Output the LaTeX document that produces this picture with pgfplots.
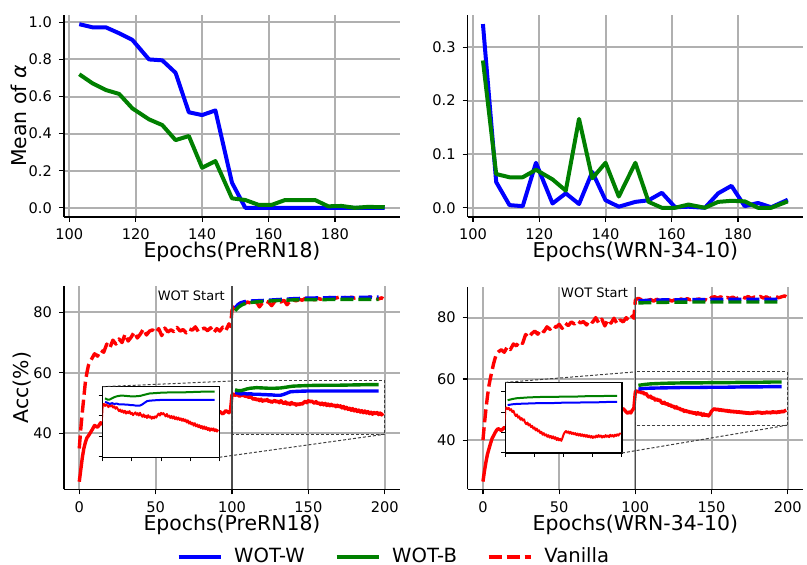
\documentclass[border=0pt]{standalone}
\usepackage{pgfplots}
\pgfplotsset{compat=1.18}
\usepackage{pgfplotstable}
\usepackage{fontspec}
\setmainfont{DejaVu Sans}

\definecolor{gridc}{RGB}{176,176,176}
\definecolor{mgreen}{RGB}{0,128,0}

% ---- alpha curves (top row) ----
\pgfplotstableread{
x w b
103 0.990 0.720
107 0.973 0.671
111 0.973 0.635
115 0.941 0.614
119 0.905 0.536
124 0.800 0.477
128 0.795 0.446
132 0.728 0.365
136 0.515 0.387
140 0.500 0.216
144 0.525 0.252
149 0.135 0.051
153 0.000 0.042
157 0.000 0.016
161 0.000 0.016
165 0.000 0.042
170 0.000 0.042
174 0.000 0.042
178 0.000 0.008
182 0.000 0.010
186 0.000 0.000
190 0.000 0.005
195 0.000 0.003
}\alphaPre

\pgfplotstableread{
x w b
103 0.343 0.275
107 0.048 0.063
111 0.005 0.057
115 0.003 0.057
119 0.084 0.071
124 0.008 0.053
128 0.027 0.032
132 0.007 0.166
136 0.067 0.055
140 0.014 0.084
144 0.002 0.021
149 0.011 0.084
153 0.014 0.011
157 0.028 0.000
161 0.001 0.000
165 0.002 0.006
170 0.000 0.000
174 0.027 0.011
178 0.041 0.013
182 0.003 0.012
186 0.009 0.000
190 0.001 0.000
195 0.015 0.012
}\alphaWrn

% ---- PreRN18 accuracy ----
\pgfplotstableread[row sep=\\]{
x y\\
0 35\\ 1 41.5\\ 2 47\\ 3 52\\ 4 57\\ 5 60\\ 6 62.5\\ 7 63.6\\ 8 64.5\\ 10 66.3\\
12 65.5\\ 14 67.5\\ 16 66.8\\ 18 69.5\\ 20 68.2\\ 22 70.8\\ 24 69.5\\ 26 71.2\\ 28 70\\ 30 72.8\\
32 70.5\\ 34 71.8\\ 36 73.5\\ 38 71.5\\ 40 72.8\\ 42 74.5\\ 44 72.5\\ 46 73.8\\ 48 74.2\\ 50 73.2\\
52 74.6\\ 54 72.3\\ 56 74.8\\ 58 73.5\\ 60 74.2\\ 62 73.6\\ 64 75\\ 66 73.8\\ 68 74.3\\ 70 73.2\\
72 74.5\\ 74 74.1\\ 76 75.2\\ 78 73.6\\ 80 74.4\\ 82 74.8\\ 84 73.9\\ 86 74.9\\ 88 73.2\\ 90 74.6\\
92 73.8\\ 94 75.1\\ 96 74\\ 98 76.2\\ 99 75.3\\ 100 80.7\\ 101 81.5\\ 102 82\\ 104 82.6\\ 106 83.2\\
108 82.8\\ 110 83.4\\ 112 83.1\\ 114 82.5\\ 116 83.5\\ 118 81.8\\ 120 83.2\\ 122 83.7\\ 124 83.3\\ 126 82.2\\
128 83.6\\ 130 83.9\\ 132 83.4\\ 134 84\\ 136 82.5\\ 138 83.7\\ 140 84.1\\ 142 83.8\\ 144 84.3\\ 146 84\\
148 84.6\\ 150 84.2\\ 152 84.5\\ 154 84.1\\ 156 84.7\\ 158 84.3\\ 160 84.8\\ 162 84.4\\ 164 84.9\\ 166 84.5\\
168 84.7\\ 170 85\\ 172 84.6\\ 174 84.9\\ 176 84.4\\ 178 85\\ 180 84.7\\ 182 84.9\\ 184 84.5\\ 186 84.8\\
188 84.4\\ 190 85.1\\ 192 84.6\\ 194 84.9\\ 196 84.4\\ 198 84.8\\ 199 84.5\\
}\preTrain

\pgfplotstableread[row sep=\\]{
x y\\
0 24\\ 1 28\\ 2 32\\ 3 35\\ 4 37\\ 5 38.5\\ 6 39.2\\ 7 40\\ 8 40.8\\ 10 42.6\\
12 42\\ 14 43.5\\ 16 42.8\\ 18 44\\ 20 43.2\\ 22 44.5\\ 24 43.8\\ 26 44.8\\ 28 44\\ 30 45.2\\
32 44.3\\ 34 45.5\\ 36 44.8\\ 38 45.7\\ 40 44.9\\ 44 45.5\\ 48 46\\ 52 45.3\\ 56 46.2\\ 60 45.6\\
64 46.4\\ 68 45.8\\ 72 46.5\\ 76 46\\ 80 46.8\\ 84 46.2\\ 88 46.9\\ 90 46.5\\ 92 47.2\\ 94 46.4\\
96 47.5\\ 98 46.8\\ 99 47.6\\
100 52.8\\ 101 53.0\\ 102 52.5\\ 103 52.9\\ 104 52.6\\ 105 52.2\\ 106 52.8\\ 107 52.4\\ 108 52.7\\ 109 52.1\\
110 52.4\\ 111 51.8\\ 112 52.2\\ 113 51.7\\ 114 51.2\\ 115 51.6\\ 116 51.0\\ 117 51.4\\ 118 50.8\\ 119 51.3\\
120 50.6\\ 121 51.1\\ 122 50.7\\ 123 51.2\\ 124 50.5\\ 125 50.8\\ 126 50.2\\ 127 50.6\\ 128 50.9\\ 129 50.3\\
130 50.7\\ 131 50.1\\ 132 50.8\\ 133 50.2\\ 134 49.8\\ 135 50.4\\ 136 49.7\\ 137 50.1\\ 138 49.5\\ 139 50.2\\
140 49.6\\ 141 49.9\\ 142 49.3\\ 143 49.8\\ 144 49.4\\ 145 49.9\\ 146 49.6\\ 147 50.2\\ 148 50.6\\ 149 50.1\\
150 50.8\\ 151 50.4\\ 152 50.7\\ 153 50.3\\ 154 49.9\\ 155 50.5\\ 156 49.8\\ 157 50.1\\ 158 49.5\\ 159 50.0\\
160 49.4\\ 161 49.9\\ 162 49.2\\ 163 49.7\\ 164 49.1\\ 165 49.6\\ 166 49.0\\ 167 49.4\\ 168 48.8\\ 169 49.3\\
170 48.7\\ 171 49.1\\ 172 48.4\\ 173 48.9\\ 174 48.1\\ 175 48.6\\ 176 47.9\\ 177 48.3\\ 178 47.6\\ 179 48.2\\
180 47.4\\ 181 47.9\\ 182 47.2\\ 183 47.7\\ 184 47.0\\ 185 47.5\\ 186 46.8\\ 187 47.4\\ 188 46.7\\ 189 47.2\\
190 46.5\\ 191 47.0\\ 192 46.3\\ 193 46.9\\ 194 46.4\\ 195 46.9\\ 196 46.2\\ 197 46.7\\ 198 46.1\\ 199 46.6\\
}\preTest

\pgfplotstableread[row sep=\\]{
x y\\
102 81.5\\ 104 82.6\\ 106 83.2\\ 108 83.5\\ 110 83.7\\ 115 83.8\\ 120 83.9\\ 130 84.2\\
140 84.5\\ 150 84.7\\ 160 84.8\\ 170 84.9\\ 180 84.9\\ 190 85.0\\ 196 85.0\\
}\preWtrain

\pgfplotstableread[row sep=\\]{
x y\\
102 80.5\\ 104 81.6\\ 106 82.3\\ 108 82.8\\ 110 83.1\\ 115 83.4\\ 120 83.6\\ 130 83.9\\
140 84.1\\ 150 84.2\\ 160 84.2\\ 170 84.3\\ 180 84.3\\ 190 84.3\\ 196 84.3\\
}\preBtrain

\pgfplotstableread[row sep=\\]{
x y\\
102 53.5\\ 104 53.3\\ 106 53.0\\ 108 53.2\\ 110 53.0\\ 112 53.1\\ 114 52.9\\ 116 52.9\\ 118 52.9\\
120 52.8\\ 122 52.8\\ 124 52.7\\ 126 52.7\\ 128 52.6\\ 130 52.6\\ 132 52.6\\ 134 52.9\\ 136 53.3\\
138 53.7\\ 140 53.8\\ 144 53.9\\ 150 54.0\\ 160 54.0\\ 170 54.0\\ 180 54.0\\ 190 54.0\\ 196 54.0\\
}\preWtest

\pgfplotstableread[row sep=\\]{
x y\\
102 54.4\\ 104 54.1\\ 106 54.1\\ 108 54.4\\ 110 54.7\\ 112 54.9\\ 116 55.1\\ 120 55.0\\ 124 54.9\\
128 54.9\\ 132 55.0\\ 136 55.3\\ 140 55.6\\ 145 55.7\\ 150 55.8\\ 160 55.9\\ 170 55.9\\ 180 56.0\\
190 56.1\\ 196 56.1\\
}\preBtest

% ---- WRN-34-10 accuracy ----
\pgfplotstableread[row sep=\\]{
x y\\
0 40\\ 1 45.5\\ 2 50.3\\ 3 54.5\\ 4 58\\ 5 60.5\\ 6 62.8\\ 7 65\\ 8 66.8\\ 9 68.3\\
10 68.8\\ 12 69.5\\ 14 68.7\\ 16 70.5\\ 18 69.6\\ 20 71.4\\ 22 70.8\\ 24 72.3\\ 26 71.6\\ 28 74.5\\
30 73.5\\ 32 74.8\\ 34 75.6\\ 36 74.6\\ 38 76.2\\ 40 75.4\\ 42 77\\ 44 76.2\\ 46 77.5\\ 48 76.8\\
50 77.8\\ 52 76.5\\ 54 78.2\\ 56 77.4\\ 58 78.6\\ 60 77.9\\ 62 79\\ 64 78.3\\ 66 78.7\\ 68 77.6\\
70 79.2\\ 72 78.5\\ 74 80\\ 76 78.2\\ 78 79.5\\ 80 77.3\\ 82 79.4\\ 84 78.2\\ 86 79.8\\ 88 78\\
90 79.3\\ 92 78.6\\ 94 80\\ 96 79\\ 98 80.5\\ 99 79.8\\ 100 85.7\\ 101 86.1\\ 102 86.3\\ 104 85.8\\
106 86.2\\ 108 85.6\\ 110 85.9\\ 112 85.4\\ 114 86\\ 116 85.5\\ 118 85.9\\ 120 85.3\\ 122 85.8\\ 124 85.4\\
126 85.9\\ 128 85.6\\ 130 86.1\\ 132 85.5\\ 134 86.2\\ 136 85.8\\ 138 86.3\\ 140 85.9\\ 142 86.1\\ 144 85.3\\
146 85.9\\ 148 85.4\\ 150 86.6\\ 152 86.8\\ 154 86.4\\ 156 86.8\\ 158 86.2\\ 160 86.6\\ 162 86.3\\ 164 86.7\\
166 86.1\\ 168 86.6\\ 170 86.8\\ 172 86.4\\ 174 86.9\\ 176 86.3\\ 178 86.7\\ 180 86.5\\ 182 86.9\\ 184 86.4\\
186 86.8\\ 188 86.2\\ 190 86.7\\ 192 86.9\\ 194 86.5\\ 196 86.8\\ 198 87.1\\ 199 86.8\\
}\wrnTrain

\pgfplotstableread[row sep=\\]{
x y\\
0 26.5\\ 1 30\\ 2 33\\ 3 35.5\\ 4 37.3\\ 5 39\\ 6 40.6\\ 7 41.5\\ 8 42.5\\ 9 43.3\\
10 43.8\\ 12 43.2\\ 14 44.2\\ 16 43.6\\ 20 44.8\\ 24 44.3\\ 28 45.5\\ 32 45\\ 36 46.2\\ 40 45.8\\
44 46.8\\ 48 46.4\\ 52 47.3\\ 56 47\\ 60 47.8\\ 64 47.4\\ 68 48.3\\ 72 48\\ 76 48.8\\ 80 48.4\\
84 49.2\\ 88 48.8\\ 90 50\\ 92 50.3\\ 93 49.8\\ 94 49.2\\ 95 48.8\\ 96 49.3\\ 97 48.9\\ 98 49.8\\
99 50.4\\
100 55.8\\ 101 56.1\\ 102 55.7\\ 103 56.0\\ 104 55.4\\ 105 55.7\\ 106 55.0\\ 107 55.3\\ 108 54.5\\ 109 54.0\\
110 54.4\\ 111 53.6\\ 112 53.9\\ 113 53.1\\ 114 53.5\\ 115 52.9\\ 116 53.2\\ 117 52.4\\ 118 52.0\\ 119 52.4\\
120 51.7\\ 121 52.0\\ 122 51.3\\ 123 51.6\\ 124 50.9\\ 125 51.2\\ 126 50.5\\ 127 50.9\\ 128 50.2\\ 129 50.5\\
130 49.8\\ 131 50.1\\ 132 49.4\\ 133 49.8\\ 134 49.2\\ 135 49.5\\ 136 48.9\\ 137 49.3\\ 138 48.7\\ 139 49.1\\
140 48.5\\ 141 49.0\\ 142 48.4\\ 143 48.8\\ 144 48.1\\ 145 48.6\\ 146 48.0\\ 147 48.4\\ 148 47.9\\ 149 48.6\\
150 49.5\\ 151 50.0\\ 152 50.3\\ 153 49.9\\ 154 50.2\\ 155 49.7\\ 156 50.1\\ 157 49.6\\ 158 49.9\\ 159 49.5\\
160 49.8\\ 161 49.3\\ 162 49.7\\ 163 49.2\\ 164 49.6\\ 165 49.1\\ 166 49.5\\ 167 49.0\\ 168 49.4\\ 169 48.9\\
170 49.3\\ 171 48.8\\ 172 49.2\\ 173 48.7\\ 174 49.1\\ 175 48.6\\ 176 49.0\\ 177 48.7\\ 178 49.2\\ 179 48.8\\
180 49.3\\ 181 48.9\\ 182 49.2\\ 183 48.7\\ 184 49.1\\ 185 48.8\\ 186 49.3\\ 187 48.9\\ 188 49.2\\ 189 48.8\\
190 49.4\\ 191 49.0\\ 192 49.3\\ 193 48.9\\ 194 49.4\\ 195 49.1\\ 196 49.5\\ 197 49.2\\ 198 49.6\\ 199 49.8\\
}\wrnTest

\pgfplotstableread[row sep=\\]{
x y\\
102 85.5\\ 110 85.7\\ 120 85.8\\ 140 85.9\\ 160 86.0\\ 180 86.0\\ 196 86.0\\
}\wrnWtrain

\pgfplotstableread[row sep=\\]{
x y\\
102 84.8\\ 110 84.9\\ 120 85.0\\ 140 85.1\\ 160 85.1\\ 180 85.1\\ 196 85.1\\
}\wrnBtrain

\pgfplotstableread[row sep=\\]{
x y\\
102 56.7\\ 106 56.9\\ 110 57.0\\ 120 57.1\\ 130 57.2\\ 140 57.2\\ 150 57.3\\ 160 57.3\\
170 57.4\\ 180 57.4\\ 190 57.5\\ 196 57.5\\
}\wrnWtest

\pgfplotstableread[row sep=\\]{
x y\\
102 57.9\\ 106 58.2\\ 110 58.4\\ 120 58.6\\ 130 58.7\\ 140 58.7\\ 150 58.8\\ 160 58.8\\
170 58.9\\ 180 58.9\\ 190 59.0\\ 196 59.0\\
}\wrnBtest

\pgfplotsset{
  mainax/.style={
    scale only axis, width=168pt, height=101pt,
    axis x line*=bottom, axis y line*=left,
    axis line style={line width=0.6pt},
    tick align=outside, major tick length=2.5pt,
    tick style={line width=0.6pt, black},
    grid=major, major grid style={gridc, line width=1pt},
    tick label style={font=\fontsize{7.3}{8}\selectfont},
    label style={font=\fontsize{10.2}{12}\selectfont},
    /pgf/number format/assume math mode=true,
    xlabel style={at={(axis description cs:0.5,-0.175)}, anchor=center},
    ylabel style={at={(axis description cs:-0.135,0.5)}, anchor=center},
    every axis plot/.append style={line width=1.7pt, line join=round},
  },
  accax/.style={mainax, xmin=-10, xmax=210, xtick={0,50,100,150,200}, ytick={40,60,80}},
  insax/.style={
    scale only axis, width=58.3pt, height=35.3pt,
    axis background/.style={fill=white},
    xmin=100, xmax=200, xtick={100,125,150,175,200},
    xticklabels={}, yticklabels={},
    xtick pos=left, ytick pos=left,
    tick align=outside, major tick length=2pt,
    tick style={line width=0.5pt, black},
    axis line style={line width=0.6pt},
    every axis plot/.append style={line width=1pt, line join=round},
  },
  trn/.style={dash pattern=on 6.5pt off 2.5pt},
}

\begin{document}
\begin{tikzpicture}
\useasboundingbox (0,0) rectangle (403.5pt,282.5pt);

% top left
\begin{axis}[mainax, at={(32pt,174pt)}, anchor=south west,
  xmin=98.4, xmax=199.6, ymin=-0.0495, ymax=1.0395,
  xtick={100,120,140,160,180}, ytick={0,0.2,0.4,0.6,0.8,1.0},
  yticklabel style={/pgf/number format/.cd, fixed, fixed zerofill, precision=1},
  xlabel={Epochs(PreRN18)}, ylabel={Mean of \textit{α}},
  every axis plot/.append style={line width=2pt}]
\addplot[blue] table[x=x, y=w] {\alphaPre};
\addplot[mgreen] table[x=x, y=b] {\alphaPre};
\end{axis}

% top right
\begin{axis}[mainax, at={(233.85pt,174pt)}, anchor=south west, width=167.65pt,
  xmin=98.4, xmax=199.6, ymin=-0.0172, ymax=0.36,
  xtick={100,120,140,160,180}, ytick={0,0.1,0.2,0.3},
  yticklabel style={/pgf/number format/.cd, fixed, fixed zerofill, precision=1},
  xlabel={Epochs(WRN-34-10)},
  every axis plot/.append style={line width=2pt}]
\addplot[blue] table[x=x, y=w] {\alphaWrn};
\addplot[mgreen] table[x=x, y=b] {\alphaWrn};
\end{axis}

% bottom left
\begin{axis}[accax, at={(32pt,37.85pt)}, anchor=south west, height=101.65pt,
  ymin=21.5, ymax=88.7,
  xlabel={Epochs(PreRN18)}, ylabel={Acc(\%)},
  ylabel style={at={(axis description cs:-0.125,0.5)}},
  legend columns=3,
  legend style={at={(0.985,-0.333)}, anchor=center, draw=none, fill=none,
    font=\fontsize{9.8}{11}\selectfont,
    /tikz/every odd column/.append style={column sep=4pt},
    /tikz/every even column/.append style={column sep=13pt}},
  legend image code/.code={\draw[#1] (0pt,0pt) -- (21pt,0pt);}]
\addplot[red, trn, forget plot] table {\preTrain};
\addplot[red, forget plot] table {\preTest};
\addplot[blue, trn, forget plot] table {\preWtrain};
\addplot[blue, forget plot] table {\preWtest};
\addplot[mgreen, trn, forget plot] table {\preBtrain};
\addplot[mgreen, forget plot] table {\preBtest};
\draw[black!70, line width=0.8pt] (axis cs:100,21.5) -- (axis cs:100,88.7);
\node[anchor=east, font=\fontsize{6.5}{8}\selectfont, inner sep=0pt] at (axis cs:95.5,85.4) {WOT Start};
\draw[black!75, line width=0.5pt, dash pattern=on 1.5pt off 1pt] (axis cs:100,39.7) rectangle (axis cs:200,57.3);
\coordinate (rLa) at (axis cs:100,57.3);
\coordinate (rLb) at (axis cs:200,39.7);
\addlegendimage{blue, line width=1.7pt}
\addlegendentry{WOT-W}
\addlegendimage{mgreen, line width=1.7pt}
\addlegendentry{WOT-B}
\addlegendimage{red, line width=1.7pt, trn}
\addlegendentry{Vanilla}
\end{axis}

\begin{axis}[insax, name=insL, at={(51.35pt,53.85pt)}, anchor=south west,
  ymin=39.7, ymax=57.3, ytick={40,45,50,55}]
\addplot[red] table {\preTest};
\addplot[blue] table {\preWtest};
\addplot[mgreen] table {\preBtest};
\end{axis}
\draw[black!75, line width=0.5pt, dash pattern=on 1.5pt off 1pt] (insL.north west) -- (rLa);
\draw[black!75, line width=0.5pt, dash pattern=on 1.5pt off 1pt] (insL.south east) -- (rLb);

% bottom right
\begin{axis}[accax, at={(233.85pt,37.85pt)}, anchor=south west, width=167.65pt, height=101pt,
  ymin=24.0, ymax=89.9,
  xlabel={Epochs(WRN-34-10)}]
\addplot[red, trn] table {\wrnTrain};
\addplot[red] table {\wrnTest};
\addplot[blue, trn] table {\wrnWtrain};
\addplot[blue] table {\wrnWtest};
\addplot[mgreen, trn] table {\wrnBtrain};
\addplot[mgreen] table {\wrnBtest};
\draw[black!70, line width=0.8pt] (axis cs:100,24.0) -- (axis cs:100,89.9);
\node[anchor=east, font=\fontsize{6.5}{8}\selectfont, inner sep=0pt] at (axis cs:95.5,88.2) {WOT Start};
\draw[black!75, line width=0.5pt, dash pattern=on 1.5pt off 1pt] (axis cs:100,44.9) rectangle (axis cs:199.5,62.3);
\coordinate (rRa) at (axis cs:100,62.3);
\coordinate (rRb) at (axis cs:199.5,44.9);
\end{axis}

\begin{axis}[insax, name=insR, at={(252.65pt,56pt)}, anchor=south west,
  ymin=44.9, ymax=62.3, ytick={45,50,55,60}]
\addplot[red] table {\wrnTest};
\addplot[blue] table {\wrnWtest};
\addplot[mgreen] table {\wrnBtest};
\end{axis}
\draw[black!75, line width=0.5pt, dash pattern=on 1.5pt off 1pt] (insR.north west) -- (rRa);
\draw[black!75, line width=0.5pt, dash pattern=on 1.5pt off 1pt] (insR.south east) -- (rRb);

\end{tikzpicture}
\end{document}
